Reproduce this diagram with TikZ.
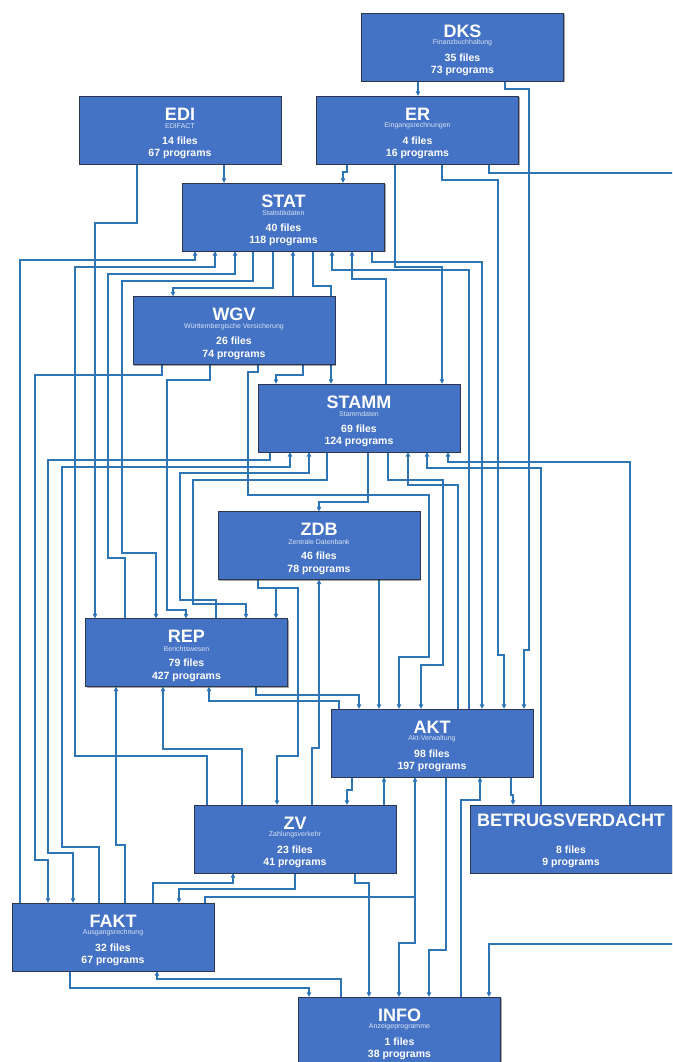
\documentclass[tikz,border=0pt]{standalone}
\usepackage{fontspec}
\setmainfont{Liberation Sans}
\usetikzlibrary{arrows.meta,shadows}
\definecolor{boxblue}{RGB}{68,114,196}
\definecolor{boxedge}{RGB}{45,55,75}
\definecolor{wireblue}{RGB}{46,117,182}
\tikzset{
 box/.style={draw=boxedge, line width=0.8pt, fill=boxblue, minimum width=202pt, minimum height=68pt, inner sep=0pt,
   drop shadow={shadow xshift=1.2pt,shadow yshift=-1.2pt,opacity=0.35,fill=black}},
 ttl/.style={text=white, font=\fontsize{18}{18}\selectfont\bfseries, inner sep=0pt},
 sub/.style={text=white!80!boxblue, font=\fontsize{7}{7}\selectfont, inner sep=0pt},
 cnt/.style={text=white, font=\fontsize{10.5}{10.5}\selectfont\bfseries, inner sep=0pt},
 w/.style={draw=wireblue, line width=1.2pt},
 a/.style={w, -{Triangle[length=4.5pt,width=4.5pt]}},
 ph/.style={minimum width=202pt,minimum height=68pt,inner sep=0pt},
}
\newcommand\mkbox[7]{%
 \node[box] (#1) at (#2,#3) {};
 \node[ttl] (#1-t) at (#2,#3-16) {#4};
 \node[sub] (#1-s) at (#2,#3-4) {#5};
 \node[cnt] (#1-f) at (#2,#3+10.5) {#6};
 \node[cnt] (#1-p) at (#2,#3+24) {#7};
}
\begin{document}
\begin{tikzpicture}[x=1pt,y=-1pt]
\useasboundingbox (0,0) rectangle (672,1062);
\clip (0,0) rectangle (672,1062);
% anchor placeholders (the visible boxes are drawn on top later)
\path (462.5,47) node[ph] (dks) {}
 (180,130) node[ph] (edi) {}
 (417.5,130) node[ph] (er) {}
 (283.5,217) node[ph] (stat) {}
 (234,330.5) node[ph] (wgv) {}
 (359,418) node[ph] (stamm) {}
 (319,545.5) node[ph] (zdb) {}
 (186.5,652.5) node[ph] (rep) {}
 (432,743) node[ph] (akt) {}
 (295,839) node[ph] (zv) {}
 (571,839) node[ph] (betrug) {}
 (113,937) node[ph] (fakt) {}
 (399.5,1031) node[ph] (info) {};

% ---- connectors ----
\draw[a] (418,0 |- dks.south) -- (418,0 |- er.north);
\draw[a] (505,0 |- dks.south) -- (505,89) -- (529,89) -- (529,650) -- (524,650) -- (524,0 |- akt.north);
\draw[a] (347,0 |- er.south) -- (347,172) -- (343,172) -- (343,0 |- stat.north);
\draw[a] (395,0 |- er.south) -- (395,267) -- (442,267) -- (442,0 |- stamm.north);
\draw[a] (442,0 |- er.south) -- (442,180) -- (498,180) -- (498,655) -- (504,655) -- (504,0 |- akt.north);
\draw[a] (489,0 |- er.south) -- (489,173) -- (720,173) -- (720,944) -- (489,944) -- (489,0 |- info.north);
\draw[a] (224,0 |- edi.south) -- (224,0 |- stat.north);
\draw[a] (137,0 |- edi.south) -- (137,223) -- (95,223) -- (95,0 |- rep.north);
\draw[a] (20,0 |- fakt.north) -- (20,260) -- (195,260) -- (195,0 |- stat.south);
\draw[a] (207,0 |- zv.north) -- (207,756) -- (75,756) -- (75,267) -- (215,267) -- (215,0 |- stat.south);
\draw[a] (125,0 |- rep.north) -- (125,558) -- (108,558) -- (108,274) -- (235,274) -- (235,0 |- stat.south);
\draw[a] (253,0 |- stat.south) -- (253,281) -- (122,281) -- (122,553) -- (156,553) -- (156,0 |- rep.north);
\draw[a] (273,0 |- stat.south) -- (273,288) -- (173,288) -- (173,0 |- wgv.north);
\draw[a] (293,0 |- wgv.north) -- (293,0 |- stat.south);
\draw[a] (313,0 |- stat.south) -- (313,286) -- (331,286) -- (331,0 |- stamm.north);
\draw[a] (386,0 |- stamm.north) -- (386,279) -- (352,279) -- (352,0 |- stat.south);
\draw[a] (469,0 |- akt.north) -- (469,270) -- (332,270) -- (332,0 |- stat.south);
\draw[a] (372,0 |- stat.south) -- (372,262) -- (482,262) -- (482,0 |- akt.north);
\draw[a] (162,0 |- wgv.south) -- (162,375) -- (35,375) -- (35,860) -- (48,860) -- (48,0 |- fakt.north);
\draw[a] (210,0 |- wgv.south) -- (210,380) -- (167,380) -- (167,610) -- (186,610) -- (186,0 |- rep.north);
\draw[a] (258,0 |- wgv.south) -- (258,372) -- (248,372) -- (248,495) -- (429,495) -- (429,657) -- (399,657) -- (399,0 |- akt.north);
\draw[a] (303,0 |- wgv.south) -- (303,375) -- (276,375) -- (276,0 |- stamm.north);
\draw[a] (368,0 |- stamm.south) -- (368,502) -- (319,502) -- (319,0 |- zdb.north);
\draw[a] (270,0 |- stamm.south) -- (270,460) -- (48,460) -- (48,853) -- (73,853) -- (73,0 |- fakt.north);
\draw[a] (99,0 |- fakt.north) -- (99,847) -- (62,847) -- (62,467) -- (290,467) -- (290,0 |- stamm.south);
\draw[a] (216,0 |- rep.north) -- (216,600) -- (180,600) -- (180,473) -- (309,473) -- (309,0 |- stamm.south);
\draw[a] (327,0 |- stamm.south) -- (327,480) -- (193,480) -- (193,604) -- (246,604) -- (246,0 |- rep.north);
\draw[a] (258,0 |- zdb.south) -- (258,588) -- (276,588) -- (276,0 |- rep.north);
\coordinate (zdbfork) at (258,588);
\draw[a] (zdbfork) -- (298,588) -- (298,756) -- (277,756) -- (277,0 |- zv.north);
\draw[a] (379,0 |- zdb.south) -- (379,0 |- akt.north);
\draw[a] (312,0 |- zv.north) -- (312,748) -- (319,748) -- (319,0 |- zdb.south);
\draw[a] (242,0 |- zv.north) -- (242,749) -- (163,749) -- (163,0 |- rep.south);
\draw[a] (125,0 |- fakt.north) -- (125,845) -- (116,845) -- (116,0 |- rep.south);
\draw[a] (256,0 |- rep.south) -- (256,695) -- (359,695) -- (359,0 |- akt.north);
\draw[a] (339,0 |- akt.north) -- (339,701) -- (209,701) -- (209,0 |- rep.south);
\draw[a] (388,0 |- stamm.south) -- (388,480) -- (443,480) -- (443,665) -- (421,665) -- (421,0 |- akt.north);
\draw[a] (458,0 |- akt.north) -- (458,485) -- (408,485) -- (408,0 |- stamm.south);
\draw[a] (541,0 |- betrug.north) -- (541,468) -- (427,468) -- (427,0 |- stamm.south);
\draw[a] (630,0 |- betrug.north) -- (630,462) -- (448,462) -- (448,0 |- stamm.south);
\draw[a] (352,0 |- akt.south) -- (352,790) -- (347,790) -- (347,0 |- zv.north);
\draw[a] (384,0 |- zv.north) -- (384,0 |- akt.south);
\draw[a] (205,0 |- fakt.north) -- (205,897) -- (415,897) -- (415,0 |- akt.south);
\coordinate (aktfork) at (415,897);
\draw[a] (aktfork) -- (415,943) -- (399,943) -- (399,0 |- info.north);
\draw[a] (461,0 |- info.north) -- (461,800) -- (480,800) -- (480,0 |- akt.south);
\draw[a] (446,0 |- akt.south) -- (446,950) -- (429,950) -- (429,0 |- info.north);
\draw[a] (511,0 |- akt.south) -- (511,795) -- (513,795) -- (513,0 |- betrug.north);
\draw[a] (355,0 |- zv.south) -- (355,883) -- (369,883) -- (369,0 |- info.north);
\draw[a] (70,0 |- fakt.south) -- (70,988) -- (309,988) -- (309,0 |- info.north);
\draw[a] (341,0 |- info.north) -- (341,979) -- (157,979) -- (157,0 |- fakt.south);
\draw[a] (295,0 |- zv.south) -- (295,889) -- (179,889) -- (179,0 |- fakt.north);
\draw[a] (153,0 |- fakt.north) -- (153,883) -- (233,883) -- (233,0 |- zv.south);

% ---- boxes ----
\mkbox{bdks}{462.5}{47}{DKS}{Finanzbuchhaltung}{35 files}{73 programs}
\mkbox{bedi}{180}{130}{EDI}{EDIFACT}{14 files}{67 programs}
\mkbox{ber}{417.5}{130}{ER}{Eingangsrechnungen}{4 files}{16 programs}
\mkbox{bstat}{283.5}{217}{STAT}{Statistikdaten}{40 files}{118 programs}
\mkbox{bwgv}{234}{330.5}{WGV}{Württembergische Versicherung}{26 files}{74 programs}
\mkbox{bstamm}{359}{418}{STAMM}{Stammdaten}{69 files}{124 programs}
\mkbox{bzdb}{319}{545.5}{ZDB}{Zentrale Datenbank}{46 files}{78 programs}
\mkbox{brep}{186.5}{652.5}{REP}{Berichtswesen}{79 files}{427 programs}
\mkbox{bakt}{432}{743}{AKT}{Akt-Verwaltung}{98 files}{197 programs}
\mkbox{bzv}{295}{839}{ZV}{Zahlungsverkehr}{23 files}{41 programs}
\mkbox{bfakt}{113}{937}{FAKT}{Ausgangsrechnung}{32 files}{67 programs}
\mkbox{binfo}{399.5}{1031}{INFO}{Anzeigeprogramme}{1 files}{38 programs}
\node[box] (bbetrug) at (571,839) {};
\node[ttl] (bbetrug-t) at (571,820) {BETRUGSVERDACHT};
\node[cnt] (bbetrug-f) at (571,850) {8 files};
\node[cnt] (bbetrug-p) at (571,863) {9 programs};
\end{tikzpicture}
\end{document}
